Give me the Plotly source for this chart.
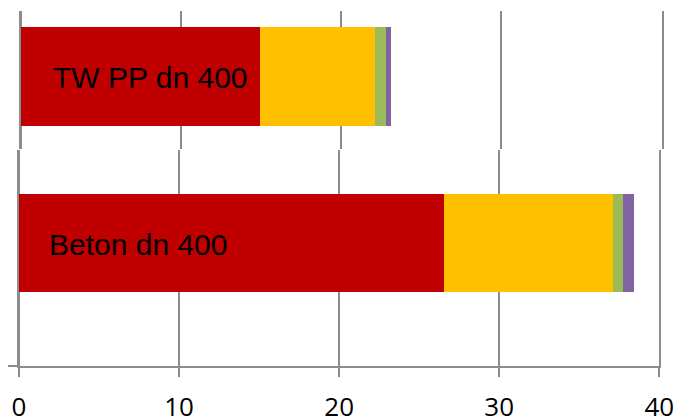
import plotly.graph_objects as go

# ---- data ----
categories = ["TW PP dn 400", "Beton dn 400"]
series_names = ["Anteil 1", "Anteil 2", "Anteil 3", "Anteil 4"]
red_values = [14.9, 26.55]
yellow_values = [7.22, 10.55]
green_values = [0.65, 0.65]
purple_values = [0.33, 0.69]
x_ticks = [0, 10, 20, 30, 40]

# ---- style ----
W, H = 678, 420
colors = ["#C00000", "#FFC000", "#9BBB59", "#8064A2"]
grid_color = "#8C8C8C"
all_values = [red_values, yellow_values, green_values, purple_values]

fig = go.Figure()
for name, vals, col in zip(series_names, all_values, colors):
    fig.add_trace(go.Bar(
        x=[vals[0]], y=[categories[0]], orientation="h", name=name,
        marker=dict(color=col, line=dict(width=0)), xaxis="x", yaxis="y",
        showlegend=False, hoverinfo="x+name"))
    fig.add_trace(go.Bar(
        x=[vals[1]], y=[categories[1]], orientation="h", name=name,
        marker=dict(color=col, line=dict(width=0)), xaxis="x2", yaxis="y2",
        showlegend=False, hoverinfo="x+name"))


def fx(p):
    return p / W


def fy(p):
    return 1 - p / H


common_x = dict(range=[0, 40], tickvals=x_ticks, showgrid=True,
                gridcolor=grid_color, gridwidth=2, zeroline=True,
                zerolinecolor=grid_color, zerolinewidth=2, fixedrange=True,
                automargin=False)
common_y = dict(type="category", showticklabels=False, showgrid=False,
                zeroline=False, showline=True, mirror=True,
                linecolor=grid_color, linewidth=2, fixedrange=True,
                automargin=False)

fig.update_layout(
    width=W, height=H,
    margin=dict(l=0, r=0, t=0, b=0, autoexpand=False),
    paper_bgcolor="white", plot_bgcolor="white",
    barmode="stack", bargap=0,
    xaxis=dict(domain=[fx(20.7), fx(661.7)], anchor="y",
               showticklabels=False, ticks="", showline=False, **common_x),
    yaxis=dict(domain=[fy(149), fy(11)], anchor="x",
               range=[-0.737, 0.666], **common_y),
    xaxis2=dict(domain=[fx(19), fx(659.3)], anchor="y2",
                showticklabels=True, ticks="outside", ticklen=9, tickwidth=2,
                tickcolor=grid_color, showline=True, linecolor=grid_color,
                linewidth=2, ticklabelstandoff=8,
                tickfont=dict(family="Open Sans", size=26, color="black"),
                **common_x),
    yaxis2=dict(domain=[fy(366), fy(150)], anchor="x2",
                range=[-1.26, 0.95], **common_y),
    shapes=[dict(type="line", xref="paper", yref="paper",
                 x0=fx(8), x1=fx(19), y0=fy(366), y1=fy(366),
                 line=dict(color=grid_color, width=2))],
    annotations=[
        dict(text=categories[0], x=1.9, y=categories[0], xref="x", yref="y",
             xanchor="left", yanchor="middle", showarrow=False, yshift=-1,
             font=dict(family="Liberation Sans", size=30, color="black")),
        dict(text=categories[1], x=1.75, y=categories[1], xref="x2", yref="y2",
             xanchor="left", yanchor="middle", showarrow=False, yshift=-2,
             font=dict(family="Liberation Sans", size=30, color="black")),
    ],
)

fig.write_html(
    "out.html",
    config={"displayModeBar": False},
    post_script="document.body.style.margin='0px';document.body.style.overflow='hidden';",
)
